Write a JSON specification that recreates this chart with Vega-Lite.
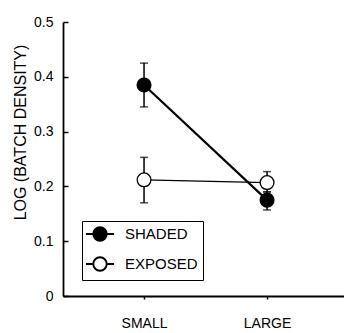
{
  "$schema": "https://vega.github.io/schema/vega-lite/v6.json",
  "autosize": "none",
  "width": 281,
  "height": 274,
  "padding": {"left": 63, "top": 22, "right": 0, "bottom": 37},
  "background": "white",
  "config": {
    "view": {"stroke": null},
    "font": "Liberation Sans",
    "axis": {
      "grid": false,
      "domainColor": "black",
      "domainWidth": 1.8,
      "tickColor": "black",
      "tickWidth": 1.5,
      "labelColor": "black",
      "labelFont": "Liberation Sans",
      "titleFont": "Liberation Sans",
      "titleColor": "black",
      "titleFontWeight": "normal"
    }
  },
  "data": {
    "values": [
      {"size": "SMALL", "cond": "SHADED", "mean": 0.385, "lo": 0.345, "hi": 0.425},
      {"size": "LARGE", "cond": "SHADED", "mean": 0.175, "lo": 0.157, "hi": 0.19},
      {"size": "SMALL", "cond": "EXPOSED", "mean": 0.212, "lo": 0.17, "hi": 0.253},
      {"size": "LARGE", "cond": "EXPOSED", "mean": 0.207, "lo": 0.19, "hi": 0.227}
    ]
  },
  "encoding": {
    "x": {
      "field": "size",
      "type": "nominal",
      "sort": ["SMALL", "LARGE"],
      "scale": {"type": "point", "padding": 0.642, "align": 0.513},
      "axis": {
        "title": null,
        "labelAngle": 0,
        "labelFontSize": 14,
        "labelPadding": 17,
        "tickSize": 3
      }
    }
  },
  "layer": [
    {
      "transform": [{"filter": "datum.cond == 'SHADED'"}],
      "mark": {"type": "line", "color": "black", "strokeWidth": 2.2},
      "encoding": {
        "y": {
          "field": "mean",
          "type": "quantitative",
          "scale": {"domain": [0, 0.5], "nice": false},
          "axis": {
            "values": [0, 0.1, 0.2, 0.3, 0.4, 0.5],
            "labelExpr": "datum.value == 0 ? '0' : format(datum.value, '.1f')",
            "labelFontSize": 14,
            "tickSize": -5,
            "labelPadding": 15,
            "title": "LOG (BATCH DENSITY)",
            "titleFontSize": 16,
            "titleAngle": -90,
            "titleAlign": "center",
            "titleBaseline": "alphabetic",
            "titleX": -38,
            "titleY": 110
          }
        }
      }
    },
    {
      "transform": [{"filter": "datum.cond == 'EXPOSED'"}],
      "mark": {"type": "line", "color": "black", "strokeWidth": 1.2},
      "encoding": {
        "y": {"field": "mean", "type": "quantitative"}
      }
    },
    {
      "mark": {"type": "rule", "color": "black", "strokeWidth": 1.5},
      "encoding": {
        "y": {"field": "lo", "type": "quantitative"},
        "y2": {"field": "hi"},
        "detail": {"field": "cond"}
      }
    },
    {
      "mark": {"type": "tick", "color": "black", "size": 8, "thickness": 1.5},
      "encoding": {
        "y": {"field": "lo", "type": "quantitative"},
        "detail": {"field": "cond"}
      }
    },
    {
      "mark": {"type": "tick", "color": "black", "size": 8, "thickness": 1.5},
      "encoding": {
        "y": {"field": "hi", "type": "quantitative"},
        "detail": {"field": "cond"}
      }
    },
    {
      "mark": {"type": "point", "shape": "circle", "stroke": "black", "strokeWidth": 1.3, "size": 190, "opacity": 1, "fillOpacity": 1},
      "encoding": {
        "y": {"field": "mean", "type": "quantitative"},
        "fill": {
          "field": "cond",
          "type": "nominal",
          "scale": {"domain": ["SHADED", "EXPOSED"], "range": ["black", "white"]},
          "legend": {
            "title": null,
            "orient": "none",
            "legendX": 19,
            "legendY": 199,
            "strokeColor": "black",
            "fillColor": "white",
            "padding": 5,
            "symbolType": "M -2.1 0 L -1 0 M 2.1 0 L 1 0 M -1 0 A 1 1 0 0 1 1 0 A 1 1 0 0 1 -1 0",
            "symbolSize": 180,
            "symbolStrokeColor": "black",
            "symbolStrokeWidth": 1.9,
            "symbolOffset": 5,
            "labelOffset": 17,
            "labelFontSize": 15,
            "labelColor": "black",
            "labelFont": "Liberation Sans",
            "rowPadding": 8
          }
        }
      }
    }
  ]
}
